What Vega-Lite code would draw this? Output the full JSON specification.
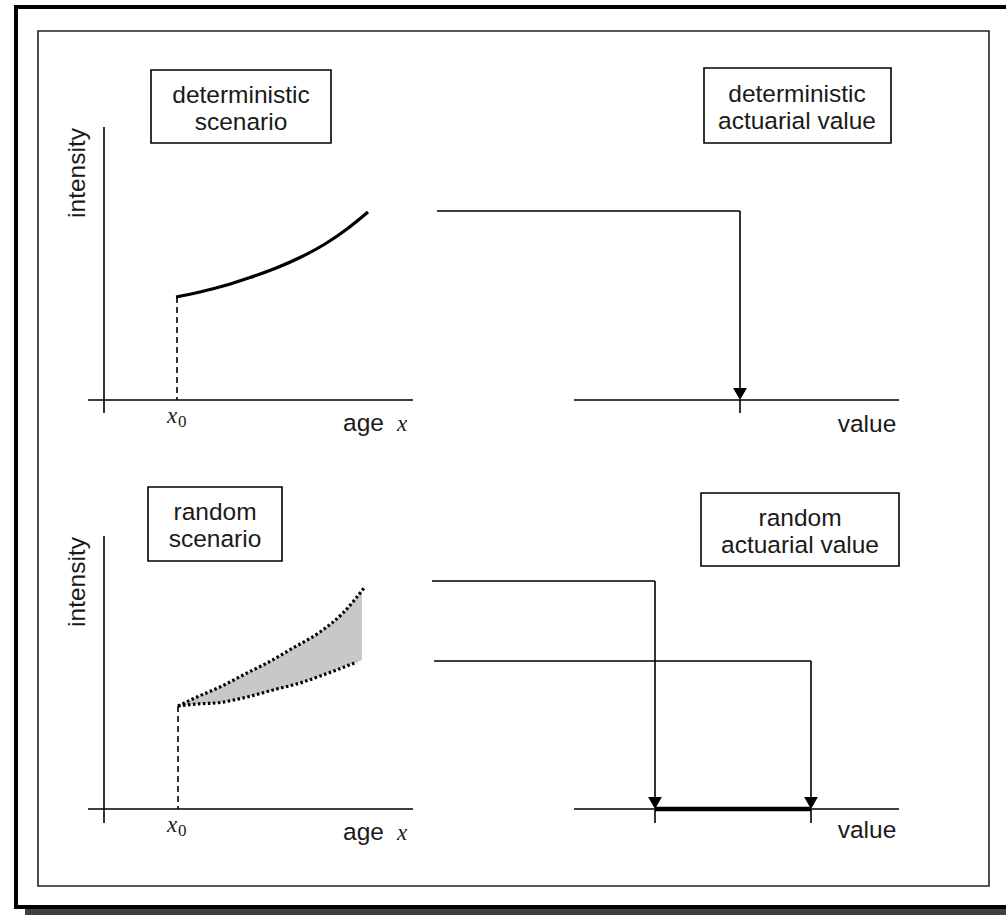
{
  "$schema": "https://vega.github.io/schema/vega-lite/v6.json",
  "width": 1006,
  "height": 915,
  "padding": 0,
  "autosize": {"type": "none"},
  "background": "white",
  "config": {"view": {"stroke": null}},
  "datasets": {
    "shadow": [{"x": 25, "x2": 1020, "y": 909, "y2": 920}],
    "outer": [{"x": 16, "x2": 1020, "y": 7, "y2": 907}],
    "inner": [{"x": 38, "x2": 989, "y": 31, "y2": 886}],
    "boxes": [
      {"x": 151, "x2": 331, "y": 70, "y2": 143},
      {"x": 704, "x2": 891, "y": 68, "y2": 143},
      {"x": 148, "x2": 282, "y": 487, "y2": 561},
      {"x": 701, "x2": 899, "y": 493, "y2": 566}
    ],
    "rules": [
      {"x": 104, "y": 127, "x2": 104, "y2": 413},
      {"x": 88, "y": 400, "x2": 413, "y2": 400},
      {"x": 437, "y": 211, "x2": 740, "y2": 211},
      {"x": 740, "y": 211, "x2": 740, "y2": 392},
      {"x": 574, "y": 400, "x2": 899, "y2": 400},
      {"x": 740, "y": 400, "x2": 740, "y2": 413},
      {"x": 104, "y": 536, "x2": 104, "y2": 823},
      {"x": 88, "y": 809, "x2": 413, "y2": 809},
      {"x": 432, "y": 581, "x2": 655, "y2": 581},
      {"x": 655, "y": 581, "x2": 655, "y2": 801},
      {"x": 434, "y": 661, "x2": 811, "y2": 661},
      {"x": 811, "y": 661, "x2": 811, "y2": 801},
      {"x": 574, "y": 809, "x2": 899, "y2": 809},
      {"x": 655, "y": 809, "x2": 655, "y2": 823},
      {"x": 811, "y": 809, "x2": 811, "y2": 823}
    ],
    "thick": [{"x": 655, "y": 809, "x2": 811, "y2": 809}],
    "dashed": [
      {"x": 177, "y": 297, "x2": 177, "y2": 400},
      {"x": 178, "y": 706, "x2": 178, "y2": 809}
    ],
    "arrows": [
      {"x": 740, "y": 394},
      {"x": 655, "y": 803},
      {"x": 811, "y": 803}
    ],
    "curve": [
      {"x": 176, "y": 297},
      {"x": 200, "y": 292},
      {"x": 225, "y": 285.5},
      {"x": 250, "y": 277.5},
      {"x": 275, "y": 268.5},
      {"x": 300, "y": 257.5},
      {"x": 325, "y": 244},
      {"x": 347, "y": 229},
      {"x": 368, "y": 212}
    ],
    "band": [
      {"x": 178, "y": 706, "y2": 706},
      {"x": 197, "y": 697, "y2": 704},
      {"x": 220, "y": 687, "y2": 702.5},
      {"x": 247, "y": 673, "y2": 697},
      {"x": 267, "y": 663, "y2": 692},
      {"x": 293, "y": 648, "y2": 685},
      {"x": 320, "y": 632, "y2": 676},
      {"x": 343, "y": 613, "y2": 667},
      {"x": 362, "y": 590, "y2": 660}
    ],
    "upper": [
      {"x": 178, "y": 706},
      {"x": 197, "y": 697},
      {"x": 220, "y": 687},
      {"x": 247, "y": 673},
      {"x": 267, "y": 663},
      {"x": 293, "y": 648},
      {"x": 320, "y": 632},
      {"x": 343, "y": 613},
      {"x": 364, "y": 588}
    ],
    "lower": [
      {"x": 178, "y": 706},
      {"x": 197, "y": 704},
      {"x": 220, "y": 702.5},
      {"x": 247, "y": 697},
      {"x": 273, "y": 690},
      {"x": 300, "y": 683},
      {"x": 323, "y": 675},
      {"x": 357, "y": 662}
    ],
    "labels": [
      {"text": "deterministic", "x": 241, "y": 103},
      {"text": "scenario", "x": 241, "y": 130},
      {"text": "deterministic", "x": 797, "y": 102},
      {"text": "actuarial value", "x": 797, "y": 129},
      {"text": "random", "x": 215, "y": 520},
      {"text": "scenario", "x": 215, "y": 547},
      {"text": "random", "x": 800, "y": 526},
      {"text": "actuarial value", "x": 800, "y": 553},
      {"text": "value", "x": 867, "y": 432},
      {"text": "value", "x": 867, "y": 838}
    ],
    "agelabels": [
      {"text": "age", "x": 343, "y": 431},
      {"text": "age", "x": 343, "y": 840}
    ],
    "italic": [
      {"text": "x", "x": 397, "y": 431},
      {"text": "x", "x": 397, "y": 840},
      {"text": "x", "x": 167, "y": 423},
      {"text": "x", "x": 167, "y": 832}
    ],
    "subs": [
      {"text": "0", "x": 178, "y": 427},
      {"text": "0", "x": 178, "y": 836}
    ],
    "ylabels": [
      {"text": "intensity", "x": 85, "y": 173},
      {"text": "intensity", "x": 85, "y": 582}
    ]
  },
  "encoding": {
    "x": {"field": "x", "type": "quantitative", "axis": null, "scale": {"domain": [0, 1006], "nice": false, "zero": false}},
    "y": {"field": "y", "type": "quantitative", "axis": null, "scale": {"domain": [0, 915], "nice": false, "zero": false, "reverse": true}}
  },
  "layer": [
    {
      "data": {"name": "shadow"},
      "mark": {"type": "rect", "fill": "#404040", "clip": true},
      "encoding": {"x2": {"field": "x2"}, "y2": {"field": "y2"}}
    },
    {
      "data": {"name": "outer"},
      "mark": {"type": "rect", "fill": "white", "stroke": "black", "strokeWidth": 4, "clip": true},
      "encoding": {"x2": {"field": "x2"}, "y2": {"field": "y2"}}
    },
    {
      "data": {"name": "inner"},
      "mark": {"type": "rect", "fill": "white", "stroke": "#222", "strokeWidth": 1.6},
      "encoding": {"x2": {"field": "x2"}, "y2": {"field": "y2"}}
    },
    {
      "data": {"name": "boxes"},
      "mark": {"type": "rect", "fill": "white", "stroke": "black", "strokeWidth": 1.6},
      "encoding": {"x2": {"field": "x2"}, "y2": {"field": "y2"}}
    },
    {
      "data": {"name": "band"},
      "mark": {"type": "area", "fill": "#c8c8c8", "interpolate": "monotone", "opacity": 1},
      "encoding": {"y2": {"field": "y2"}}
    },
    {
      "data": {"name": "upper"},
      "mark": {"type": "line", "color": "black", "strokeWidth": 3.2, "strokeDash": [2.5, 2.5], "interpolate": "monotone"},
      "encoding": {}
    },
    {
      "data": {"name": "lower"},
      "mark": {"type": "line", "color": "black", "strokeWidth": 3.2, "strokeDash": [2.5, 2.5], "interpolate": "monotone"},
      "encoding": {}
    },
    {
      "data": {"name": "rules"},
      "mark": {"type": "rule", "color": "black", "strokeWidth": 1.6},
      "encoding": {"x2": {"field": "x2"}, "y2": {"field": "y2"}}
    },
    {
      "data": {"name": "thick"},
      "mark": {"type": "rule", "color": "black", "strokeWidth": 4.5},
      "encoding": {"x2": {"field": "x2"}, "y2": {"field": "y2"}}
    },
    {
      "data": {"name": "dashed"},
      "mark": {"type": "rule", "color": "black", "strokeWidth": 1.6, "strokeDash": [6, 4]},
      "encoding": {"x2": {"field": "x2"}, "y2": {"field": "y2"}}
    },
    {
      "data": {"name": "arrows"},
      "mark": {"type": "point", "shape": "triangle-down", "filled": true, "color": "black", "size": 190, "opacity": 1},
      "encoding": {}
    },
    {
      "data": {"name": "curve"},
      "mark": {"type": "line", "color": "black", "strokeWidth": 3.2, "interpolate": "monotone"},
      "encoding": {}
    },
    {
      "data": {"name": "labels"},
      "mark": {"type": "text", "font": "Liberation Sans", "fontSize": 24.5, "color": "#1a1a1a", "align": "center", "baseline": "alphabetic"},
      "encoding": {"text": {"field": "text"}}
    },
    {
      "data": {"name": "agelabels"},
      "mark": {"type": "text", "font": "Liberation Sans", "fontSize": 24.5, "color": "#1a1a1a", "align": "left", "baseline": "alphabetic"},
      "encoding": {"text": {"field": "text"}}
    },
    {
      "data": {"name": "italic"},
      "mark": {"type": "text", "font": "Liberation Serif", "fontStyle": "italic", "fontSize": 23, "color": "#1a1a1a", "align": "left", "baseline": "alphabetic"},
      "encoding": {"text": {"field": "text"}}
    },
    {
      "data": {"name": "subs"},
      "mark": {"type": "text", "font": "Liberation Serif", "fontSize": 17, "color": "#1a1a1a", "align": "left", "baseline": "alphabetic"},
      "encoding": {"text": {"field": "text"}}
    },
    {
      "data": {"name": "ylabels"},
      "mark": {"type": "text", "font": "Liberation Sans", "fontSize": 24.5, "color": "#1a1a1a", "align": "center", "baseline": "alphabetic", "angle": 270},
      "encoding": {"text": {"field": "text"}}
    }
  ]
}
